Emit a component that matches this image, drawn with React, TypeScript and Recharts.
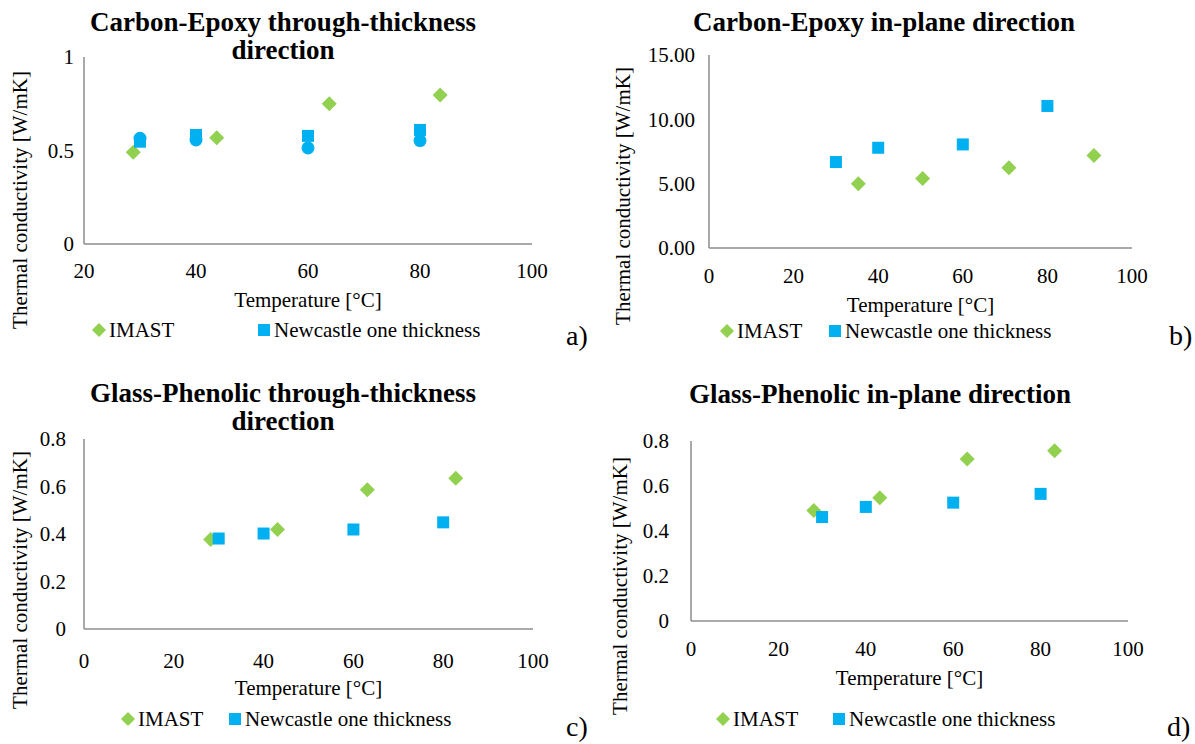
import React from 'react'
import { ScatterChart, Scatter, XAxis, YAxis } from 'recharts'

// Temperature [°C] and conductivity [W/mK]
const carbonThroughImastT = [28.8, 43.7, 63.8, 83.6]
const carbonThroughImastK = [0.49, 0.568, 0.75, 0.797]
const carbonThroughNclT = [30, 40, 60, 80]
const carbonThroughNclK = [0.547, 0.583, 0.578, 0.61]
const carbonThroughExtraT = [30, 40, 60, 80]
const carbonThroughExtraK = [0.565, 0.556, 0.514, 0.553]

const carbonInPlaneImastT = [35.3, 50.5, 70.9, 91.0]
const carbonInPlaneImastK = [4.99, 5.4, 6.23, 7.19]
const carbonInPlaneNclT = [30, 40, 60, 80]
const carbonInPlaneNclK = [6.68, 7.79, 8.05, 11.04]

const glassThroughImastT = [28.2, 43.1, 63.1, 82.8]
const glassThroughImastK = [0.377, 0.419, 0.586, 0.635]
const glassThroughNclT = [30, 40, 60, 80]
const glassThroughNclK = [0.381, 0.402, 0.419, 0.449]

const glassInPlaneImastT = [28.1, 43.2, 63.2, 83.2]
const glassInPlaneImastK = [0.491, 0.548, 0.72, 0.757]
const glassInPlaneNclT = [30, 40, 60, 80]
const glassInPlaneNclK = [0.462, 0.507, 0.526, 0.565]

const xTicksFrom20 = [20, 40, 60, 80, 100]
const xTicksFrom0 = [0, 20, 40, 60, 80, 100]
const yTicksUnit = [0, 0.5, 1]
const yTicksInPlane = [0, 5, 10, 15]
const yTicksGlass = [0, 0.2, 0.4, 0.6, 0.8]

const FONT = "'Liberation Serif', 'Times New Roman', serif"
const GREEN = '#92d050'
const BLUE = '#00b0f0'
const AXIS = '#8c8c8c'
const FS = 21

const zip = (t: number[], k: number[]) => t.map((x, i) => ({ t: x, k: k[i] }))

const Diamond = (props: any) => {
  const { cx, cy } = props
  const r = 7.5
  return (
    <path
      d={`M${cx},${cy - r}L${cx + r},${cy}L${cx},${cy + r}L${cx - r},${cy}Z`}
      fill={GREEN}
    />
  )
}

const Square = (props: any) => {
  const { cx, cy } = props
  return <rect x={cx - 6} y={cy - 6} width={12} height={12} fill={BLUE} />
}

const Dot = (props: any) => {
  const { cx, cy } = props
  return <circle cx={cx} cy={cy} r={6.5} fill={BLUE} />
}

type PanelProps = {
  left: number
  top: number
  title: string[]
  titleX: number
  titleY: number
  margin: { top: number; right: number; bottom: number; left: number }
  xDomain: [number, number]
  xTicks: number[]
  yDomain: [number, number]
  yTicks: number[]
  yFormat?: (v: number) => string
  xTickMargin: number
  yTickMargin: number
  xTitleDy: number
  yTitlePos: [number, number]
  imast: { t: number; k: number }[]
  ncl: { t: number; k: number }[]
  extra?: { t: number; k: number }[]
  legendY: number
  legendIcons: [number, number]
  letter: string
  letterPos: [number, number]
}

function Panel(p: PanelProps) {
  const tickStyle = { fill: '#000', fontSize: FS, fontFamily: FONT }
  return (
    <>
      <div
        style={{
          position: 'absolute',
          left: p.titleX - 250,
          top: p.titleY - 14,
          width: 500,
          textAlign: 'center',
          fontFamily: FONT,
          fontWeight: 'bold',
          fontSize: 27,
          lineHeight: '28px',
        }}
      >
        {p.title.map((line) => (
          <div key={line}>{line}</div>
        ))}
      </div>
      <div style={{ position: 'absolute', left: p.left, top: p.top }}>
        <ScatterChart width={597} height={372} margin={p.margin}>
          <XAxis
            type="number"
            dataKey="t"
            domain={p.xDomain}
            ticks={p.xTicks}
            height={40}
            tickSize={0}
            tickMargin={p.xTickMargin}
            tick={tickStyle}
            axisLine={{ stroke: AXIS, strokeWidth: 1.5 }}
            label={(lp: any) => {
              const vb = lp.viewBox
              return (
                <text
                  x={vb.x + vb.width / 2}
                  y={vb.y + p.xTitleDy}
                  textAnchor="middle"
                  dominantBaseline="central"
                  fontSize={FS}
                  fontFamily={FONT}
                  fill="#000"
                >
                  Temperature [°C]
                </text>
              )
            }}
          />
          <YAxis
            type="number"
            dataKey="k"
            domain={p.yDomain}
            ticks={p.yTicks}
            width={60}
            tickSize={0}
            tickMargin={p.yTickMargin}
            tick={tickStyle}
            tickFormatter={p.yFormat}
            axisLine={{ stroke: AXIS, strokeWidth: 1.5 }}
            label={() => (
              <text
                x={p.yTitlePos[0]}
                y={p.yTitlePos[1]}
                transform={`rotate(-90 ${p.yTitlePos[0]} ${p.yTitlePos[1]})`}
                textAnchor="middle"
                dominantBaseline="central"
                fontSize={FS}
                fontFamily={FONT}
                fill="#000"
              >
                Thermal conductivity [W/mK]
              </text>
            )}
          />
          <Scatter data={p.imast} shape={Diamond} isAnimationActive={false} />
          <Scatter data={p.ncl} shape={Square} isAnimationActive={false} />
          {p.extra && <Scatter data={p.extra} shape={Dot} isAnimationActive={false} />}
        </ScatterChart>
      </div>
      {[
        { x: p.legendIcons[0], label: 'IMAST', icon: 'd' },
        { x: p.legendIcons[1], label: 'Newcastle one thickness', icon: 's' },
      ].map((item) => (
        <div
          key={item.label}
          style={{
            position: 'absolute',
            left: item.x - 7,
            top: p.legendY - 12,
            height: 24,
            display: 'flex',
            alignItems: 'center',
            fontFamily: FONT,
            fontSize: FS,
            whiteSpace: 'nowrap',
          }}
        >
          <svg width={14} height={14} style={{ marginRight: 3 }}>
            {item.icon === 'd' ? (
              <path d="M7,0L14,7L7,14L0,7Z" fill={GREEN} />
            ) : (
              <rect x={1} y={1} width={12} height={12} fill={BLUE} />
            )}
          </svg>
          {item.label}
        </div>
      ))}
      <div
        style={{
          position: 'absolute',
          left: p.letterPos[0],
          top: p.letterPos[1] - 14,
          fontFamily: FONT,
          fontSize: 28,
          lineHeight: '28px',
        }}
      >
        {p.letter}
      </div>
    </>
  )
}

export default function App() {
  return (
    <div
      style={{
        position: 'absolute',
        left: 0,
        top: 0,
        width: 1195,
        height: 744,
        background: '#fff',
        overflow: 'hidden',
      }}
    >
      <Panel
        left={0}
        top={0}
        title={['Carbon-Epoxy through-thickness', 'direction']}
        titleX={283}
        titleY={22}
        margin={{ top: 57, right: 65, bottom: 88, left: 24 }}
        xDomain={[20, 100]}
        xTicks={xTicksFrom20}
        yDomain={[0, 1]}
        yTicks={yTicksUnit}
        xTickMargin={19}
        yTickMargin={10}
        xTitleDy={56}
        yTitlePos={[20, 200]}
        imast={zip(carbonThroughImastT, carbonThroughImastK)}
        ncl={zip(carbonThroughNclT, carbonThroughNclK)}
        extra={zip(carbonThroughExtraT, carbonThroughExtraK)}
        legendY={330}
        legendIcons={[99, 264]}
        letter="a)"
        letterPos={[566, 336]}
      />
      <Panel
        left={597}
        top={0}
        title={['Carbon-Epoxy in-plane direction']}
        titleX={884}
        titleY={22}
        margin={{ top: 55, right: 62, bottom: 84, left: 52 }}
        xDomain={[0, 100]}
        xTicks={xTicksFrom0}
        yDomain={[0, 15]}
        yTicks={yTicksInPlane}
        yFormat={(v) => v.toFixed(2)}
        xTickMargin={20}
        yTickMargin={14}
        xTitleDy={57}
        yTitlePos={[26, 196]}
        imast={zip(carbonInPlaneImastT, carbonInPlaneImastK)}
        ncl={zip(carbonInPlaneNclT, carbonInPlaneNclK)}
        legendY={331}
        legendIcons={[727, 835]}
        letter="b)"
        letterPos={[1169, 336]}
      />
      <Panel
        left={0}
        top={372}
        title={['Glass-Phenolic through-thickness', 'direction']}
        titleX={283}
        titleY={393}
        margin={{ top: 67, right: 64, bottom: 75, left: 24 }}
        xDomain={[0, 100]}
        xTicks={xTicksFrom0}
        yDomain={[0, 0.8]}
        yTicks={yTicksGlass}
        xTickMargin={24}
        yTickMargin={18}
        xTitleDy={59}
        yTitlePos={[20, 208]}
        imast={zip(glassThroughImastT, glassThroughImastK)}
        ncl={zip(glassThroughNclT, glassThroughNclK)}
        legendY={719}
        legendIcons={[128, 235]}
        letter="c)"
        letterPos={[566, 727]}
      />
      <Panel
        left={597}
        top={372}
        title={['Glass-Phenolic in-plane direction']}
        titleX={880}
        titleY={394}
        margin={{ top: 69, right: 66, bottom: 83, left: 34 }}
        xDomain={[0, 100]}
        xTicks={xTicksFrom0}
        yDomain={[0, 0.8]}
        yTicks={yTicksGlass}
        xTickMargin={20}
        yTickMargin={22}
        xTitleDy={57}
        yTitlePos={[23, 214]}
        imast={zip(glassInPlaneImastT, glassInPlaneImastK)}
        ncl={zip(glassInPlaneNclT, glassInPlaneNclK)}
        legendY={719}
        legendIcons={[723, 839]}
        letter="d)"
        letterPos={[1167, 727]}
      />
    </div>
  )
}
